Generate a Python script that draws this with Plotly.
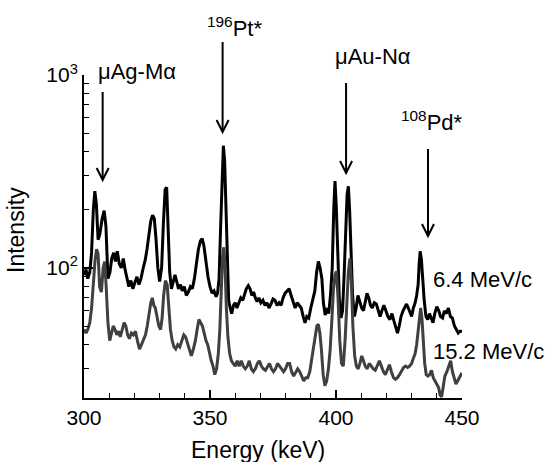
import plotly.graph_objects as go

# Spectrum recorded at 6.4 MeV/c (energy in keV, counts)
energy_64 = [300.0, 300.8, 301.5, 302.3, 303.0, 303.7, 304.3, 304.9, 305.6, 306.3, 307.2, 308.0, 308.7, 309.5,
             310.3, 311.0, 311.8, 312.5, 313.2, 314.0, 314.8, 315.6, 316.3, 317.0, 317.8, 318.6, 319.4, 320.2,
             321.0, 321.8, 322.6, 323.5, 324.3, 325.0, 325.8, 326.5, 327.2, 327.9, 328.6, 329.3, 330.0, 330.8,
             331.5, 332.2, 332.8, 333.4, 334.0, 334.7, 335.4, 336.1, 336.8, 337.5, 338.3, 339.0, 339.8, 340.6,
             341.4, 342.2, 343.0, 343.8, 344.6, 345.4, 346.2, 346.9, 347.6, 348.4, 349.2, 350.0, 350.8, 351.6,
             352.4, 353.0, 353.6, 354.2, 354.8, 355.3, 355.8, 356.3, 356.8, 357.4, 358.0, 358.6, 359.3, 360.0,
             360.7, 361.4, 362.2, 363.0, 363.7, 364.4, 365.2, 365.9, 366.6, 367.3, 368.0, 368.7, 369.4, 370.2,
             371.0, 371.8, 372.6, 373.4, 374.2, 375.0, 375.8, 376.6, 377.4, 378.2, 379.0, 379.8, 380.6, 381.4,
             382.2, 383.0, 383.8, 384.6, 385.4, 386.2, 387.0, 387.7, 388.4, 389.2, 390.0, 390.8, 391.6, 392.3,
             393.0, 393.7, 394.4, 395.0, 395.7, 396.4, 397.1, 397.8, 398.5, 399.1, 399.6, 400.1, 400.7, 401.3,
             402.0, 402.6, 403.2, 403.8, 404.4, 404.9, 405.4, 406.0, 406.6, 407.3, 408.0, 408.7, 409.4, 410.2,
             410.9, 411.6, 412.3, 413.0, 413.7, 414.4, 415.2, 416.0, 416.8, 417.5, 418.2, 419.0, 419.8, 420.6,
             421.4, 422.2, 423.0, 423.7, 424.4, 425.1, 425.8, 426.6, 427.3, 428.0, 428.7, 429.4, 430.0, 430.7,
             431.4, 432.0, 432.6, 433.0, 433.4, 433.9, 434.4, 435.0, 435.7, 436.4, 437.1, 437.8, 438.5, 439.2,
             440.0, 440.8, 441.5, 442.3, 443.0, 443.8, 444.6, 445.4, 446.2, 447.0, 447.8, 448.5, 449.2, 450.0]
counts_64 = [92, 98, 88, 95, 120, 200, 250, 215, 140, 150, 180, 198, 165, 88,
             95, 112, 120, 108, 122, 105, 100, 112, 98, 88, 80, 86, 78, 84,
             90, 82, 88, 100, 110, 125, 150, 175, 188, 180, 140, 100, 85, 100,
             170, 255, 262, 170, 95, 78, 85, 92, 85, 78, 82, 76, 80, 72,
             75, 80, 78, 88, 105, 125, 138, 142, 130, 108, 90, 80, 74, 76,
             71, 74, 88, 160, 330, 430, 360, 200, 100, 68, 62, 58, 64, 66,
             62, 66, 70, 68, 74, 78, 81, 78, 72, 75, 70, 67, 70, 66,
             68, 64, 66, 62, 65, 69, 68, 64, 66, 64, 70, 74, 76, 78,
             72, 66, 62, 66, 64, 62, 56, 52, 56, 55, 62, 68, 76, 95,
             108, 100, 88, 66, 57, 62, 58, 72, 100, 200, 282, 210, 110, 70,
             55, 60, 90, 150, 240, 265, 200, 120, 72, 56, 62, 72, 66, 62,
             60, 68, 74, 70, 64, 62, 66, 65, 60, 56, 60, 64, 60, 56,
             54, 58, 53, 50, 46, 50, 56, 60, 62, 65, 62, 58, 56, 62,
             66, 72, 82, 105, 122, 110, 85, 68, 56, 54, 58, 55, 52, 58,
             63, 60, 56, 55, 60, 58, 62, 56, 55, 50, 48, 46, 47, 47]

# Spectrum recorded at 15.2 MeV/c
energy_152 = [300.0, 300.8, 301.5, 302.3, 303.0, 303.7, 304.4, 305.0, 305.6, 306.2, 306.9, 307.6, 308.2, 308.8,
              309.5, 310.2, 310.9, 311.6, 312.3, 313.0, 313.7, 314.4, 315.2, 315.9, 316.6, 317.3, 318.0, 318.8,
              319.6, 320.4, 321.2, 322.0, 322.8, 323.6, 324.4, 325.1, 325.8, 326.5, 327.1, 327.7, 328.3, 329.0,
              329.7, 330.4, 331.0, 331.6, 332.3, 333.0, 333.6, 334.3, 335.0, 335.7, 336.4, 337.2, 338.0, 338.8,
              339.6, 340.3, 341.0, 341.8, 342.6, 343.4, 344.2, 344.9, 345.6, 346.3, 347.0, 347.7, 348.4, 349.1,
              349.8, 350.5, 351.2, 351.9, 352.6, 353.3, 353.9, 354.5, 355.0, 355.5, 356.0, 356.5, 357.1, 357.8,
              358.5, 359.2, 360.0, 360.8, 361.6, 362.4, 363.2, 364.0, 364.8, 365.6, 366.4, 367.2, 368.0, 368.8,
              369.6, 370.4, 371.2, 372.0, 372.8, 373.6, 374.4, 375.2, 376.0, 376.8, 377.6, 378.4, 379.2, 380.0,
              380.8, 381.6, 382.4, 383.2, 384.0, 384.8, 385.6, 386.4, 387.2, 388.0, 388.8, 389.6, 390.3, 391.0,
              391.7, 392.4, 393.0, 393.6, 394.2, 394.9, 395.6, 396.3, 397.0, 397.7, 398.4, 399.0, 399.6, 400.2,
              400.8, 401.5, 402.2, 402.9, 403.6, 404.3, 404.9, 405.5, 406.1, 406.7, 407.4, 408.1, 408.8, 409.5,
              410.2, 410.9, 411.6, 412.4, 413.2, 414.0, 414.8, 415.6, 416.4, 417.2, 418.0, 418.8, 419.6, 420.4,
              421.2, 422.0, 422.8, 423.6, 424.4, 425.2, 426.0, 426.8, 427.6, 428.4, 429.2, 430.0, 430.7, 431.4,
              432.0, 432.6, 433.1, 433.6, 434.1, 434.6, 435.2, 435.8, 436.5, 437.2, 437.9, 438.6, 439.3, 440.0,
              440.7, 441.3, 441.9, 442.5, 443.2, 444.0, 444.8, 445.5, 446.2, 446.9, 447.6, 448.3, 449.0, 449.6,
              450.0]
counts_152 = [48, 46, 48, 52, 62, 85, 110, 125, 118, 80, 75, 100, 108, 80,
              52, 42, 46, 50, 48, 45, 47, 44, 48, 52, 50, 45, 43, 46,
              45, 47, 42, 38, 40, 43, 45, 50, 58, 66, 70, 64, 62, 55,
              50, 48, 55, 72, 86, 82, 66, 48, 42, 39, 38, 40, 39, 42,
              45, 44, 41, 38, 35, 38, 42, 48, 54, 52, 50, 46, 42, 40,
              36, 33, 31, 28, 30, 36, 48, 80, 115, 128, 100, 62, 44, 36,
              33, 32, 31, 33, 31, 33, 31, 30, 31, 33, 30, 29, 30, 32,
              33, 31, 30, 29.5, 31, 32, 30, 29, 30, 32, 31, 30, 29, 30,
              32, 32, 29, 27.5, 28.5, 30, 29, 27.5, 26, 27, 27, 29, 33, 38,
              44, 50, 51, 46, 38, 28, 24.5, 26, 30, 38, 55, 78, 92, 96,
              70, 42, 32, 31, 42, 65, 95, 112, 85, 50, 35, 31, 30, 32,
              35, 33, 31, 30, 32, 31, 30, 29.5, 31, 33, 31, 29, 28, 30,
              31.5, 29, 27, 26.5, 27, 28, 29, 30.5, 31, 30.5, 31, 32, 34, 36,
              40, 47, 57, 62, 55, 42, 32, 28, 27.5, 28, 29.5, 27, 26, 25,
              24, 22, 21.5, 24, 27.5, 29, 31, 33, 29, 27, 25, 26, 27, 28,
              27.5]

# Axis ticks
x_major = [300, 350, 400, 450]
x_minor = [310, 320, 330, 340, 360, 370, 380, 390, 410, 420, 430, 440]
y_major = [100, 1000]
y_major_text = ["10<sup>2</sup>", "10<sup>3</sup>"]
y_minor = [30, 40, 50, 60, 70, 80, 90, 200, 300, 400, 500, 600, 700, 800, 900]

# Peak markers: label, arrow energy (keV), label energy (keV)
peak_labels = ["μAg-Mα", "<sup>196</sup>Pt*", "μAu-Nα", "<sup>108</sup>Pd*"]
peak_arrow_e = [307.4, 355.0, 404.0, 436.5]
peak_label_e = [321.0, 359.7, 414.5, 437.9]

FONT = "Liberation Sans, Arial, sans-serif"
W, H = 548, 462
L, R, T, B = 84, 86, 75, 64
ph = H - T - B
pw = W - L - R
KEV_PER_PX = 150.0 / pw


def py(pix):
    """Pixel row -> paper y coordinate."""
    return (H - B - pix) / ph


fig = go.Figure()
fig.add_trace(go.Scatter(x=energy_64, y=counts_64, mode="lines",
                         line=dict(color="#000000", width=3), name="6.4 MeV/c"))
fig.add_trace(go.Scatter(x=energy_152, y=counts_152, mode="lines",
                         line=dict(color="#404040", width=3), name="15.2 MeV/c"))

# arrows pointing at the peaks: vertical shaft plus open V head
shapes = []
tip_rows = [180, 132, 173, 236]
tail_rows = [92, 42, 83, 149]
for e, tip, tail in zip(peak_arrow_e, tip_rows, tail_rows):
    shapes.append(dict(type="line", xref="x", yref="paper", x0=e, x1=e, y0=py(tail), y1=py(tip - 1),
                       line=dict(color="#000000", width=2)))
    hw = 6 * KEV_PER_PX
    path = "M {:.4f},{:.5f} L {:.4f},{:.5f} L {:.4f},{:.5f}".format(
        e - hw, py(tip - 12), e, py(tip), e + hw, py(tip - 12))
    shapes.append(dict(type="path", xref="x", yref="paper", path=path,
                       line=dict(color="#000000", width=2)))

annotations = []
label_rows = [72, 27, 56, 121]
for lab, e, row in zip(peak_labels, peak_label_e, label_rows):
    annotations.append(dict(x=e, y=py(row), xref="x", yref="paper", text=lab, showarrow=False,
                            xanchor="center", yanchor="middle",
                            font=dict(family=FONT, size=22, color="#000000")))

# series labels
annotations.append(dict(x=437.7, y=py(279), xref="x", yref="paper", text="6.4 MeV/c",
                        showarrow=False, xanchor="left", yanchor="middle",
                        font=dict(family=FONT, size=22, color="#000000")))
annotations.append(dict(x=437.7, y=py(351), xref="x", yref="paper", text="15.2 MeV/c",
                        showarrow=False, xanchor="left", yanchor="middle",
                        font=dict(family=FONT, size=22, color="#000000")))

# axis titles
annotations.append(dict(x=(258 - L) / pw, y=py(450), xref="paper", yref="paper",
                        text="Energy (keV)", showarrow=False, xanchor="center", yanchor="middle",
                        font=dict(family=FONT, size=23, color="#000000")))
annotations.append(dict(x=(16 - L) / pw, y=py(230), xref="paper", yref="paper",
                        text="Intensity", showarrow=False, textangle=-90,
                        xanchor="center", yanchor="middle",
                        font=dict(family=FONT, size=23, color="#000000")))

fig.update_layout(
    width=W, height=H,
    margin=dict(l=L, r=R, t=T, b=B, pad=0),
    paper_bgcolor="white", plot_bgcolor="white",
    showlegend=False,
    annotations=annotations,
    shapes=shapes,
    font=dict(family=FONT, size=21, color="#000000"),
)
fig.update_xaxes(
    range=[300, 450], showgrid=False, zeroline=False,
    showline=True, linecolor="#000000", linewidth=2, mirror=False,
    tickmode="array", tickvals=x_major, ticks="inside", ticklen=8, tickwidth=1.5,
    tickcolor="#000000", tickfont=dict(family=FONT, size=21),
    minor=dict(tickmode="array", tickvals=x_minor, ticks="inside", ticklen=5,
               tickwidth=1.2, tickcolor="#000000", showgrid=False),
)
fig.update_yaxes(
    type="log", range=[1.326, 3.0], showgrid=False, zeroline=False,
    showline=True, linecolor="#000000", linewidth=2, mirror=False,
    tickmode="array", tickvals=y_major, ticktext=y_major_text,
    ticks="inside", ticklen=9, tickwidth=1.5, tickcolor="#000000",
    tickfont=dict(family=FONT, size=21),
    minor=dict(tickmode="array", tickvals=y_minor, ticks="inside", ticklen=5,
               tickwidth=1.2, tickcolor="#000000", showgrid=False),
)

fig.write_html("out.html")
